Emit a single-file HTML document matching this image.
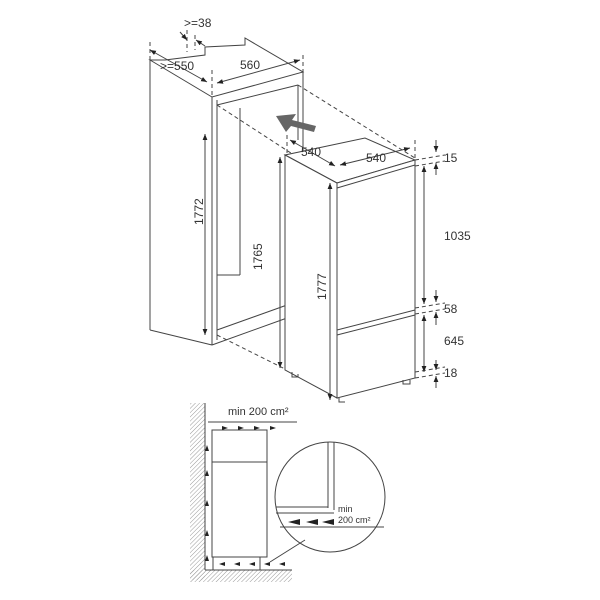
<!DOCTYPE html>
<html><head><style>body{margin:0;background:#fff}svg{display:block}text{font-family:"Liberation Sans",sans-serif;fill:#333}</style></head><body>
<svg width="600" height="600" viewBox="0 0 600 600" xmlns="http://www.w3.org/2000/svg">
<defs>
<marker id="a" viewBox="0 0 10 10" refX="10" refY="5" markerWidth="6" markerHeight="6" orient="auto-start-reverse"><path d="M0,1L10,5L0,9z" fill="#222"/></marker>
<pattern id="h" width="3" height="3" patternUnits="userSpaceOnUse" patternTransform="rotate(45)"><line x1="0" y1="0" x2="0" y2="3" stroke="#999" stroke-width="1"/></pattern>
</defs>
<g stroke="#444" stroke-width="1" fill="none">
<!-- niche top -->
<path d="M150,60 L212,97 L303,72 L245,38 L245,45 L205,47 L205,55 L165,60 Z" fill="#fff"/>
<line x1="150" y1="60" x2="150" y2="330"/>
<line x1="212" y1="97" x2="212" y2="345"/>
<line x1="217" y1="100" x2="217" y2="340"/>
<line x1="303" y1="72" x2="303" y2="180"/>
<line x1="298" y1="85" x2="298" y2="140"/>
<line x1="217" y1="105" x2="298" y2="85"/>
<line x1="240" y1="108" x2="240" y2="275"/>
<line x1="212" y1="345" x2="287" y2="318"/>
<line x1="217" y1="330" x2="287" y2="305"/>
<line x1="150" y1="330" x2="212" y2="345"/>
<line x1="217" y1="275" x2="240" y2="275"/>
<g stroke-dasharray="4,3">
<line x1="217" y1="105" x2="337" y2="183"/>
<line x1="298" y1="85" x2="415" y2="158"/>
<line x1="217" y1="335" x2="287" y2="370"/>
<line x1="212" y1="70" x2="212" y2="97"/>
<line x1="303" y1="55" x2="303" y2="72"/>
<line x1="150" y1="42" x2="150" y2="60"/>
<line x1="187" y1="30" x2="187" y2="52"/>
<line x1="195" y1="35" x2="195" y2="50"/>
<line x1="337" y1="160" x2="337" y2="183"/>
<line x1="287" y1="135" x2="287" y2="155"/>
<line x1="415" y1="140" x2="415" y2="160"/>
<line x1="415" y1="160" x2="445" y2="155"/>
<line x1="415" y1="166" x2="445" y2="161"/>
<line x1="415" y1="308" x2="445" y2="303"/>
<line x1="415" y1="314" x2="445" y2="309"/>
<line x1="415" y1="372" x2="445" y2="367"/>
<line x1="415" y1="378" x2="445" y2="373"/>
</g>
<!-- fridge -->
<path d="M285,155 L337,183 L415,160 L365,138 Z" fill="#fff"/>
<path d="M285,155 L337,183 L337,398 L285,370 Z" fill="#fff"/>
<path d="M337,183 L415,160 L415,378 L337,398 Z" fill="#fff"/>
<line x1="337" y1="188" x2="415" y2="165"/>
<line x1="337" y1="330" x2="415" y2="310"/>
<line x1="337" y1="335" x2="415" y2="315"/>
<path d="M292,372v5h6v-3M403,380v4h7v-4M339,398v4h6"/>
<!-- dimensions -->
<g marker-start="url(#a)" marker-end="url(#a)">
<line x1="205" y1="134" x2="205" y2="335"/>
<line x1="280" y1="157" x2="280" y2="368"/>
<line x1="330" y1="183" x2="330" y2="400"/>
<line x1="424" y1="166" x2="424" y2="304"/>
<line x1="424" y1="315" x2="424" y2="372"/>
<line x1="150" y1="50" x2="207" y2="82"/>
<line x1="217" y1="83" x2="300" y2="60"/>
<line x1="290" y1="140" x2="335" y2="166"/>
<line x1="340" y1="165" x2="410" y2="148"/>
</g>
<line x1="436" y1="140" x2="436" y2="152" marker-end="url(#a)"/>
<line x1="436" y1="175" x2="436" y2="163" marker-end="url(#a)"/>
<line x1="436" y1="290" x2="436" y2="302" marker-end="url(#a)"/>
<line x1="436" y1="325" x2="436" y2="312" marker-end="url(#a)"/>
<line x1="436" y1="360" x2="436" y2="370" marker-end="url(#a)"/>
<line x1="436" y1="388" x2="436" y2="376" marker-end="url(#a)"/>
<line x1="180" y1="32" x2="187" y2="40" marker-end="url(#a)"/>
<line x1="205" y1="46" x2="196" y2="40" marker-end="url(#a)"/>
</g>
<path d="M316,126 L292,120 L296,114 L276,116 L286,132 L291,126 L314,132Z" fill="#666"/>
<g font-size="12">
<text x="184" y="27">&gt;=38</text>
<text x="160" y="70">&gt;=550</text>
<text x="240" y="69">560</text>
<text x="301" y="156">540</text>
<text x="366" y="162">540</text>
<text x="444" y="162">15</text>
<text x="444" y="240">1035</text>
<text x="444" y="313">58</text>
<text x="444" y="345">645</text>
<text x="444" y="377">18</text>
<text transform="translate(203,225) rotate(-90)">1772</text>
<text transform="translate(262,270) rotate(-90)">1765</text>
<text transform="translate(326,300) rotate(-90)">1777</text>
</g>
<!-- bottom diagram -->
<rect x="190" y="403" width="15" height="177" fill="url(#h)"/>
<rect x="190" y="570" width="102" height="12" fill="url(#h)"/>
<g stroke="#444" fill="none">
<line x1="205" y1="403" x2="205" y2="570"/>
<line x1="205" y1="570" x2="292" y2="570"/>
<rect x="212" y="430" width="55" height="32"/>
<rect x="212" y="462" width="55" height="95"/>
<line x1="208" y1="422" x2="297" y2="422"/>
<line x1="213" y1="557" x2="213" y2="570"/>
<line x1="260" y1="557" x2="260" y2="570"/>
<circle cx="330" cy="497" r="55" fill="#fff"/>
<line x1="328" y1="442" x2="328" y2="508"/>
<line x1="334" y1="442" x2="334" y2="510"/>
<line x1="276" y1="507" x2="328" y2="507"/>
<line x1="276" y1="513" x2="334" y2="513"/>
<line x1="280" y1="527" x2="384" y2="527"/>
<line x1="305" y1="540" x2="270" y2="562"/>
</g>
<g fill="#222">
<path d="M222,426l6,2-6,2zM238,426l6,2-6,2zM254,426l6,2-6,2zM270,426l6,2-6,2z"/>
<path d="M285,562l-6,2 6,2zM270,562l-6,2 6,2zM255,562l-6,2 6,2zM240,562l-6,2 6,2zM225,562l-6,2 6,2z"/>
<path d="M300,519l-12,3 12,3zM318,519l-12,3 12,3zM334,519l-12,3 12,3z"/>
<path d="M207,445l-2,6h4zM207,470l-2,6h4zM207,500l-2,6h4zM207,530l-2,6h4zM207,555l-2,6h4z"/>
</g>
<text x="228" y="415" font-size="11">min 200 cm²</text>
<text x="338" y="512" font-size="9">min</text>
<text x="338" y="523" font-size="9">200 cm²</text>
</svg>
</body></html>
